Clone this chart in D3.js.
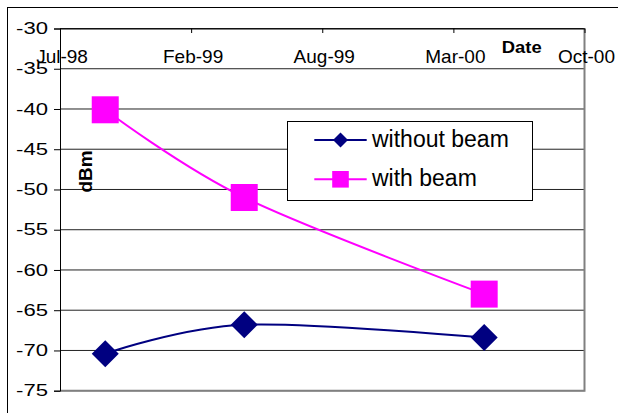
<!DOCTYPE html>
<html>
<head>
<meta charset="utf-8">
<script src="https://cdn.jsdelivr.net/npm/d3@7"></script>
<style>
	html, body { margin: 0; padding: 0; background: #fff; }
	svg { display: block; font-family: "Liberation Sans", Arial, sans-serif; }
</style>
</head>
<body>
<svg id="chart" width="618" height="413"></svg>
<script>
// data
var seriesNames = ['without beam', 'with beam'];
var measureDates = ['1998-10-01', '1999-05-01', '2000-05-01'];
var withoutBeam = [-70.4, -66.8, -68.4];
var withBeam = [-40.1, -51.0, -63.0];
var xTickDates = ['1998-07-24', '1999-02-09', '1999-08-28', '2000-03-15', '2000-10-01'];
var yTickValues = [-30, -35, -40, -45, -50, -55, -60, -65, -70, -75];

const ChartPane = {
	plot: { left: 60, top: 28.5, right: 584.5, bottom: 390.7 },
	colors: ['#000080', '#ff00ff'],
	xScale: null,
	yScale: null,

	init: function() {
		const self = this;
		var parse = d3.timeParse('%Y-%m-%d');

		self.xScale = d3.scaleTime()
			.domain([parse(xTickDates[0]), parse(xTickDates[xTickDates.length - 1])])
			.range([self.plot.left, self.plot.right]);
		self.yScale = d3.scaleLinear()
			.domain([-75, -30])
			.range([self.plot.bottom, self.plot.top]);
		self.parse = parse;
	},
	update: function() {
		ChartPane.drawFrame();
		ChartPane.drawGrid();
		ChartPane.drawAxes();
		ChartPane.drawSeries();
		ChartPane.drawLegend();
	},

	drawFrame: function() {
		var svg = d3.select('#chart');
		svg.append('rect')
			.attr('x', 7.5).attr('y', 7.5)
			.attr('width', 640).attr('height', 440)
			.attr('fill', '#fff')
			.attr('stroke', '#000');
	},
	drawGrid: function() {
		const self = this;
		var svg = d3.select('#chart');
		var p = self.plot;

		svg.append('g').attr('class', 'grid')
			.selectAll('line')
			.data(yTickValues)
			.enter().append('line')
			.attr('x1', p.left).attr('x2', p.right)
			.attr('y1', d => self.yScale(d)).attr('y2', d => self.yScale(d))
			.attr('stroke', '#222')
			.attr('stroke-width', 1);

		// gray plot border right + bottom
		svg.append('path')
			.attr('d', 'M' + p.right + ',' + p.top + 'V' + p.bottom + 'H' + p.left)
			.attr('fill', 'none')
			.attr('stroke', '#808080')
			.attr('stroke-width', 2);
	},
	drawAxes: function() {
		const self = this;
		var svg = d3.select('#chart');
		var p = self.plot;
		var fmt = d3.timeFormat('%b-%y');
		var tickDates = xTickDates.map(self.parse);

		// y axis
		var yAxis = d3.axisLeft(self.yScale)
			.tickValues(yTickValues)
			.tickSize(6)
			.tickFormat('');
		var yG = svg.append('g')
			.attr('transform', 'translate(' + p.left + ',0)')
			.call(yAxis);
		yG.select('.domain').attr('stroke', '#000');
		yG.selectAll('.tick line').attr('stroke', '#000');

		svg.append('g').selectAll('text')
			.data(yTickValues)
			.enter().append('text')
			.attr('transform', d => 'translate(48,' + (self.yScale(d) + 5.6) + ') scale(1.38,1)')
			.attr('text-anchor', 'end')
			.style('font-size', '16px')
			.text(d => d);

		// x axis across the top
		var xAxis = d3.axisBottom(self.xScale)
			.tickValues(tickDates)
			.tickSize(4.5)
			.tickSizeOuter(0)
			.tickFormat('');
		var xG = svg.append('g')
			.attr('transform', 'translate(0,' + p.top + ')')
			.call(xAxis);
		xG.select('.domain').attr('stroke', '#000');
		xG.selectAll('.tick line').attr('stroke', '#000');

		svg.append('g').selectAll('text')
			.data(tickDates)
			.enter().append('text')
			.attr('x', d => self.xScale(d) + 2)
			.attr('y', 62.5)
			.attr('text-anchor', 'middle')
			.style('font-size', '19px')
			.text(d => fmt(d));

		// axis titles
		svg.append('text')
			.attr('transform', 'translate(521.7,53.3) scale(1.15,1)')
			.attr('text-anchor', 'middle')
			.style('font-size', '16px')
			.style('font-weight', 'bold')
			.text('Date');
		svg.append('text')
			.attr('transform', 'translate(91.5,171.5) rotate(-90)')
			.attr('text-anchor', 'middle')
			.style('font-size', '19px')
			.style('font-weight', 'bold')
			.text('dBm');
	},
	drawSeries: function() {
		const self = this;
		var svg = d3.select('#chart');
		var dates = measureDates.map(self.parse);
		var allSeries = [withoutBeam, withBeam];

		var line = d3.line()
			.x((d, i) => self.xScale(dates[i]))
			.y(d => self.yScale(d))
			.curve(d3.curveCardinal.tension(0));

		allSeries.forEach(function(values, k) {
			var color = self.colors[k];
			svg.append('path')
				.datum(values)
				.attr('d', line)
				.attr('fill', 'none')
				.attr('stroke', color)
				.attr('stroke-width', 2);

			svg.append('g').selectAll('path')
				.data(values)
				.enter().append('path')
				.attr('transform', (d, i) => 'translate(' + self.xScale(dates[i]) + ',' + self.yScale(d) + ')')
				.attr('d', k == 0 ? self.diamond(13.5) : self.square(13.5))
				.attr('fill', color);
		});
	},
	drawLegend: function() {
		const self = this;
		var svg = d3.select('#chart');
		var g = svg.append('g').attr('class', 'legend');

		g.append('rect')
			.attr('x', 287.5).attr('y', 121.5)
			.attr('width', 245).attr('height', 79)
			.attr('fill', '#fff')
			.attr('stroke', '#000');

		var rowY = [140, 179.3];
		seriesNames.forEach(function(name, k) {
			var color = self.colors[k];
			g.append('line')
				.attr('x1', 314.3).attr('x2', 366.7)
				.attr('y1', rowY[k]).attr('y2', rowY[k])
				.attr('stroke', color)
				.attr('stroke-width', 2);
			g.append('path')
				.attr('transform', 'translate(340.5,' + rowY[k] + ')')
				.attr('d', k == 0 ? self.diamond(7.5) : self.square(8.3))
				.attr('fill', color);
			g.append('text')
				.attr('x', 372)
				.attr('y', rowY[k] + 6.5)
				.style('font-size', '23px')
				.text(name);
		});
	},

	// marker shapes
	diamond: function(r) {
		return 'M0,' + (-r) + 'L' + r + ',0L0,' + r + 'L' + (-r) + ',0Z';
	},
	square: function(r) {
		return 'M' + (-r) + ',' + (-r) + 'H' + r + 'V' + r + 'H' + (-r) + 'Z';
	}
};

ChartPane.init();
ChartPane.update();
</script>
</body>
</html>
